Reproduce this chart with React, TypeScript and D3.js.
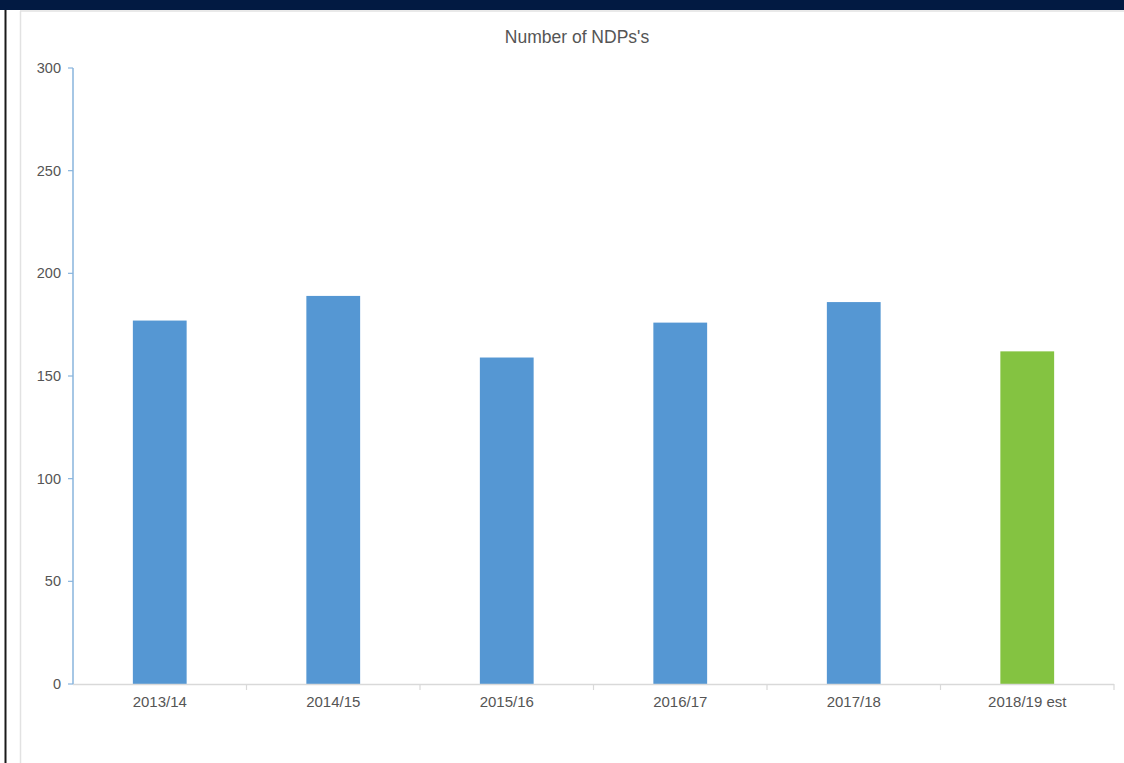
import React, { useEffect, useRef } from "react";
import * as d3 from "d3";

const categories = ["2013/14", "2014/15", "2015/16", "2016/17", "2017/18", "2018/19 est"];
const values = [177, 189, 159, 176, 186, 162];
const barColors = ["#5597d3", "#5597d3", "#5597d3", "#5597d3", "#5597d3", "#84c341"];
const yTicks = [0, 50, 100, 150, 200, 250, 300];
const title = "Number of NDPs's";

const W = 1124;
const H = 763;

export default function App() {
  const ref = useRef<SVGSVGElement | null>(null);

  useEffect(() => {
    const svg = d3.select(ref.current);
    svg.selectAll("*").remove();

    const left = 73, right = 1114, top = 68, bottom = 684;
    const font = "'Liberation Sans', Arial, sans-serif";

    // frame
    svg.append("rect").attr("x", 0).attr("y", 0).attr("width", W).attr("height", H).attr("fill", "#ffffff");
    svg.append("rect").attr("x", 0).attr("y", 0).attr("width", W).attr("height", 10).attr("fill", "#021a42");
    svg.append("line").attr("x1", 20).attr("x2", W).attr("y1", 11).attr("y2", 11).attr("stroke", "#e2e2e2").attr("stroke-width", 1.5);
    svg.append("line").attr("x1", 20.5).attr("x2", 20.5).attr("y1", 11).attr("y2", H).attr("stroke", "#e2e2e2").attr("stroke-width", 1.5);
    svg.append("rect").attr("x", 4.5).attr("y", 10).attr("width", 2).attr("height", H - 10).attr("fill", "#1a1a1a");

    const x = d3.scaleBand<string>().domain(categories).range([left, right]).paddingInner(0.69).paddingOuter(0.345);
    const y = d3.scaleLinear().domain([0, 300]).range([bottom, top]);

    // title
    svg.append("text").attr("x", 577).attr("y", 43).attr("text-anchor", "middle")
      .attr("font-family", font).attr("font-size", 17.5).attr("fill", "#555555").text(title);

    // bars
    svg.selectAll("rect.bar").data(values).enter().append("rect")
      .attr("class", "bar")
      .attr("x", (_d, i) => x(categories[i]) as number)
      .attr("width", x.bandwidth())
      .attr("y", (d) => y(d))
      .attr("height", (d) => y(0) - y(d))
      .attr("fill", (_d, i) => barColors[i]);

    // x axis
    const step = x.step();
    svg.append("line").attr("x1", left).attr("x2", right).attr("y1", bottom + 0.5).attr("y2", bottom + 0.5)
      .attr("stroke", "#d9d9d9").attr("stroke-width", 1.5);
    for (let i = 1; i <= categories.length; i++) {
      const tx = left + step * i * (right - left) / (step * categories.length);
      svg.append("line").attr("x1", tx).attr("x2", tx).attr("y1", bottom).attr("y2", bottom + 6)
        .attr("stroke", "#d9d9d9").attr("stroke-width", 1.2);
    }
    categories.forEach((c) => {
      svg.append("text").attr("x", (x(c) as number) + x.bandwidth() / 2).attr("y", 707)
        .attr("text-anchor", "middle").attr("font-family", font).attr("font-size", 15)
        .attr("fill", "#555555").text(c);
    });

    // y axis
    svg.append("line").attr("x1", left).attr("x2", left).attr("y1", top).attr("y2", bottom)
      .attr("stroke", "#88b4dd").attr("stroke-width", 1.5);
    yTicks.forEach((t) => {
      svg.append("line").attr("x1", left - 5).attr("x2", left).attr("y1", y(t)).attr("y2", y(t))
        .attr("stroke", "#88b4dd").attr("stroke-width", 1.2);
      svg.append("text").attr("x", 61).attr("y", y(t) + 5).attr("text-anchor", "end")
        .attr("font-family", font).attr("font-size", 14.5).attr("fill", "#555555").text(String(t));
    });
  }, []);

  return (
    <svg ref={ref} width={W} height={H} style={{ position: "absolute", left: 0, top: 0, display: "block" }} />
  );
}
